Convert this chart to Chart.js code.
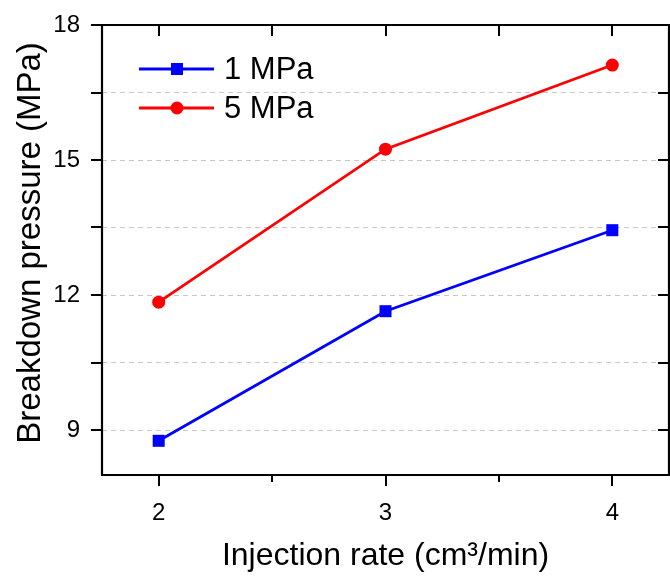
<!DOCTYPE html>
<html>
<head>
<meta charset="utf-8">
<script src="https://cdn.jsdelivr.net/npm/chart.js@4.4.0/dist/chart.umd.min.js"></script>
<style>
	html, body { margin: 0; padding: 0; background: #fff; }
	#wrap { width: 670px; height: 577px; }
</style>
</head>
<body>
<div id="wrap"><canvas id="breakdown"></canvas></div>
<script>
// data
let rates = [2, 3, 4];
let p1MPa = [8.76, 11.64, 13.44];
let p5MPa = [11.84, 15.24, 17.11];
let yTickLabels = [9, 12, 15, 18];
let xTickLabels = [2, 3, 4];

const FONT = "'Liberation Sans', Arial, sans-serif";

function toPoints(xs, ys) {
	let pts = [];
	for (let i = 0; i < xs.length; i++) {
		pts.push({ x: xs[i], y: ys[i] });
	}
	return pts;
}

// frame, ticks, y title and legend in the Origin style
const framePlugin = {
	id: 'frame',
	afterDraw(chart) {
		const ctx = chart.ctx;
		const a = chart.chartArea;
		const xs = chart.scales.x;
		const ys = chart.scales.y;
		ctx.save();
		ctx.strokeStyle = '#000';
		ctx.lineWidth = 2.2;
		ctx.beginPath();
		ctx.rect(a.left, a.top, a.right - a.left, a.bottom - a.top);
		ctx.stroke();

		ctx.lineWidth = 2;
		ctx.beginPath();
		for (let v = 2; v <= 4; v += 0.5) {
			let px = Math.round(xs.getPixelForValue(v));
			let major = Number.isInteger(v);
			ctx.moveTo(px, a.bottom);
			ctx.lineTo(px, a.bottom + (major ? 11 : 7));
			ctx.moveTo(px, a.top);
			ctx.lineTo(px, a.top + 11);
		}
		for (let v = 9; v <= 18; v += 1.5) {
			let py = Math.round(ys.getPixelForValue(v));
			ctx.moveTo(a.left, py);
			ctx.lineTo(a.left - 11, py);
			ctx.moveTo(a.right, py);
			ctx.lineTo(a.right - 11, py);
		}
		ctx.stroke();

		// y axis title
		ctx.save();
		ctx.translate(31, 243);
		ctx.rotate(-Math.PI / 2);
		ctx.fillStyle = '#000';
		ctx.font = '33px ' + FONT;
		ctx.textAlign = 'center';
		ctx.textBaseline = 'middle';
		ctx.fillText('Breakdown pressure (MPa)', 0, 0);
		ctx.restore();

		// legend
		const items = [
			{ label: '1 MPa', color: '#0000ff', shape: 'rect', y: 69 },
			{ label: '5 MPa', color: '#ff0000', shape: 'circle', y: 108 }
		];
		items.forEach((it) => {
			ctx.strokeStyle = it.color;
			ctx.fillStyle = it.color;
			ctx.lineWidth = 2.8;
			ctx.beginPath();
			ctx.moveTo(139, it.y);
			ctx.lineTo(214, it.y);
			ctx.stroke();
			ctx.beginPath();
			if (it.shape === 'rect') {
				ctx.rect(171, it.y - 6, 12, 12);
			} else {
				ctx.arc(177, it.y, 6.5, 0, Math.PI * 2);
			}
			ctx.fill();
			ctx.fillStyle = '#000';
			ctx.font = '31px ' + FONT;
			ctx.textBaseline = 'middle';
			ctx.fillText(it.label, 224, it.y + 1);
		});
		ctx.restore();
	}
};

var ctx = document.getElementById('breakdown');
var lineChart = new Chart(ctx, {
	type: 'line',
	data: {
		datasets: [{
			label: '1 MPa',
			data: toPoints(rates, p1MPa),
			borderColor: '#0000ff',
			backgroundColor: '#0000ff',
			borderWidth: 2.8,
			pointStyle: 'rect',
			pointRadius: 8.5,
			pointBorderWidth: 0,
			fill: false,
			tension: 0
		}, {
			label: '5 MPa',
			data: toPoints(rates, p5MPa),
			borderColor: '#ff0000',
			backgroundColor: '#ff0000',
			borderWidth: 2.8,
			pointStyle: 'circle',
			pointRadius: 6.5,
			pointBorderWidth: 0,
			fill: false,
			tension: 0
		}]
	},
	options: {
		responsive: true,
		maintainAspectRatio: false,
		animation: false,
		layout: { autoPadding: false, padding: { top: 25, right: 1, left: 0, bottom: 0 } },
		plugins: {
			legend: { display: false },
			tooltip: { enabled: false }
		},
		scales: {
			x: {
				type: 'linear',
				min: 1.75,
				max: 4.25,
				afterFit: (s) => {
					s.height = 102;
					s.paddingLeft = 0;
					s.paddingRight = 0;
				},
				afterBuildTicks: (s) => { s.ticks = xTickLabels.map((v) => ({ value: v })); },
				grid: { display: false, drawTicks: false },
				border: { display: false },
				ticks: {
					padding: 24,
					color: '#000',
					font: { family: FONT, size: 24 }
				},
				title: {
					display: true,
					text: 'Injection rate (cm³/min)',
					color: '#000',
					font: { family: FONT, size: 32 },
					padding: { top: 0, bottom: 2 }
				}
			},
			y: {
				min: 8,
				max: 18,
				afterFit: (s) => {
					s.width = 102;
					s.paddingTop = 0;
					s.paddingBottom = 0;
				},
				afterBuildTicks: (s) => {
					let t = [];
					for (let v = 9; v <= 18; v += 1.5) t.push({ value: v });
					s.ticks = t;
				},
				grid: { color: '#c8c8c8', lineWidth: 1, drawTicks: false },
				border: { display: false, dash: [5, 4] },
				ticks: {
					padding: 22,
					color: '#000',
					font: { family: FONT, size: 24 },
					callback: (v) => yTickLabels.includes(v) ? String(v) : ''
				},
				title: { display: false }
			}
		}
	},
	plugins: [framePlugin]
});
</script>
</body>
</html>
